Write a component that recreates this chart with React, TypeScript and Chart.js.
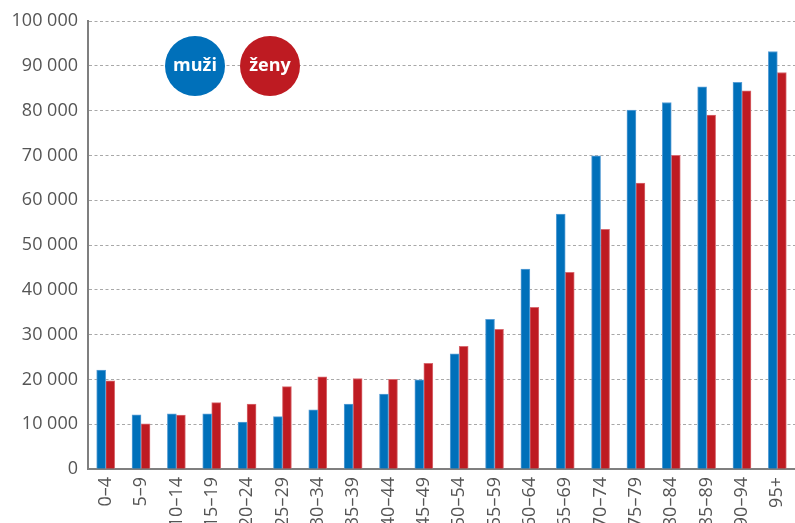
import React, { useEffect, useRef } from "react";
import { Chart, registerables } from "chart.js";

Chart.register(...registerables);

const categories = [
  "0–4", "5–9", "10–14", "15–19", "20–24", "25–29", "30–34", "35–39", "40–44", "45–49",
  "50–54", "55–59", "60–64", "65–69", "70–74", "75–79", "80–84", "85–89", "90–94", "95+",
];
const muzi = [22100, 12100, 12300, 12300, 10500, 11700, 13200, 14500, 16700, 19900, 25700, 33400, 44600, 56900, 69900, 80100, 81800, 85300, 86300, 93200];
const zeny = [19700, 10100, 12050, 14800, 14500, 18400, 20600, 20200, 20000, 23600, 27400, 31200, 36100, 43900, 53500, 63800, 70000, 79000, 84400, 88500];
const seriesLabels = ["muži", "ženy"];
const yMax = 100000;
const yStep = 10000;

const BLUE = "#0070ba";
const BLUE_EDGE = "#5a9fd6";
const RED = "#be1b22";
const RED_EDGE = "#d86a70";
const FONT = "'Open Sans', 'Noto Sans', sans-serif";

const legendPlugin = {
  id: "circleLegend",
  afterDraw(chart: any) {
    const ctx = chart.ctx;
    const items = [
      { x: 195, y: 66, color: BLUE, text: seriesLabels[0] },
      { x: 270, y: 66, color: RED, text: seriesLabels[1] },
    ];
    ctx.save();
    for (const it of items) {
      ctx.beginPath();
      ctx.arc(it.x, it.y, 30, 0, Math.PI * 2);
      ctx.fillStyle = it.color;
      ctx.fill();
      ctx.fillStyle = "#ffffff";
      ctx.font = `bold 18px ${FONT}`;
      ctx.textAlign = "center";
      ctx.textBaseline = "middle";
      ctx.fillText(it.text, it.x, it.y);
    }
    ctx.restore();
  },
};

export default function App() {
  const ref = useRef<HTMLCanvasElement>(null);
  useEffect(() => {
    if (!ref.current) return;
    const chart = new Chart(ref.current, {
      type: "bar",
      data: {
        labels: categories,
        datasets: [
          {
            label: seriesLabels[0],
            data: muzi,
            backgroundColor: BLUE,
            borderColor: BLUE_EDGE,
            borderWidth: 1,
            borderSkipped: "bottom",
            barThickness: 9,
            categoryPercentage: 0.566,
            barPercentage: 1,
          },
          {
            label: seriesLabels[1],
            data: zeny,
            backgroundColor: RED,
            borderColor: RED_EDGE,
            borderWidth: 1,
            borderSkipped: "bottom",
            barThickness: 9,
            categoryPercentage: 0.566,
            barPercentage: 1,
          },
        ],
      },
      options: {
        responsive: false,
        animation: false,
        devicePixelRatio: 1,
        layout: { padding: { top: 21, right: 0, left: 0, bottom: 0 } },
        plugins: {
          legend: { display: false },
          tooltip: { enabled: false },
        },
        scales: {
          x: {
            offset: true,
            grid: { display: false, drawTicks: false },
            border: { display: true, color: "#7f7f7f", width: 2 },
            ticks: {
              color: "#555555",
              font: { family: FONT, size: 18 },
              minRotation: 90,
              maxRotation: 90,
              autoSkip: false,
              padding: 8,
            },
            afterFit(scale: any) {
              scale.height = 61;
              scale.paddingLeft = 0;
              scale.paddingRight = 0;
            },
          },
          y: {
            min: 0,
            max: yMax,
            ticks: {
              stepSize: yStep,
              color: "#555555",
              font: { family: FONT, size: 18 },
              padding: 10,
              callback: (v: any) => {
                const n = Number(v);
                return n.toString().replace(/\B(?=(\d{3})+(?!\d))/g, " ");
              },
            },
            grid: {
              color: "#a8a8a8",
              lineWidth: 1,
              drawTicks: false,
            },
            border: { display: true, color: "#7f7f7f", width: 2, dash: [3, 2.5] },
            afterFit(scale: any) {
              scale.width = 88;
            },
          },
        },
      },
      plugins: [legendPlugin],
    } as any);
    return () => chart.destroy();
  }, []);
  return (
    <div style={{ position: "fixed", left: 0, top: 0, width: 795, height: 523, overflow: "hidden", background: "#fff" }}>
      <canvas ref={ref} width={795} height={530} style={{ display: "block" }} />
    </div>
  );
}
